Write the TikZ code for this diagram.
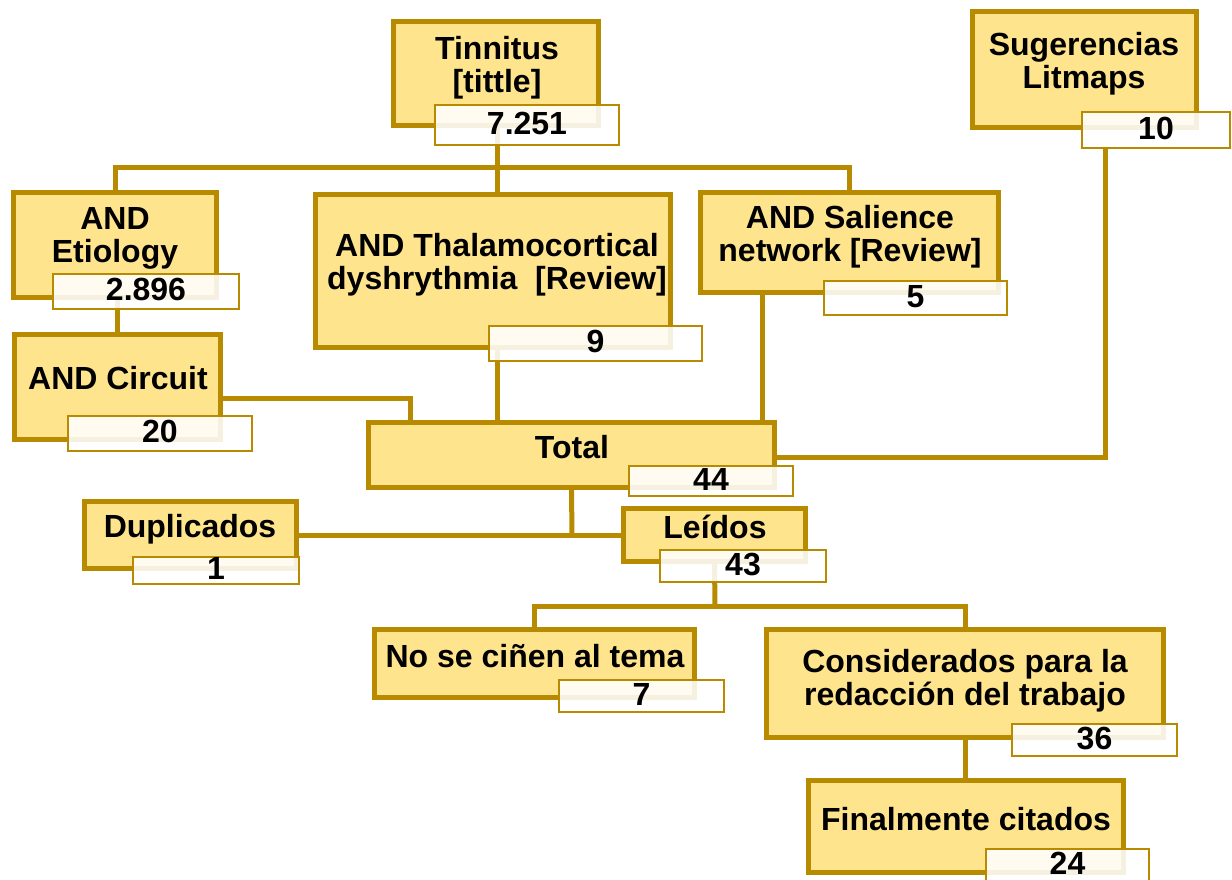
\documentclass[tikz,border=0pt]{standalone}
\usepackage{fontspec}
\setmainfont{Liberation Sans}
\definecolor{revGold}{HTML}{B88A00}
\definecolor{revCream}{HTML}{FFE48E}
\usetikzlibrary{positioning,backgrounds}

\tikzset{
	mainbox/.style 2 args={draw=revGold, line width=2.5pt, fill=revCream, inner sep=0pt,
		minimum width=#1*0.5pt-2.5pt, minimum height=#2*0.5pt-2.5pt},
	countbox/.style 2 args={draw=revGold, line width=1pt, fill=white, fill opacity=0.88,
		text opacity=1, inner sep=0pt, font=\fontsize{16}{16.5}\selectfont\bfseries,
		text height=11.4pt, text depth=2.4pt,
		minimum width=#1*0.5pt-1pt, minimum height=#2*0.5pt-1pt},
	boxtext/.style={font=\fontsize{16}{16.5}\selectfont\bfseries, align=center, inner sep=0pt},
	link/.style={draw=revGold, line width=2.5pt}
}

\begin{document}
\begin{tikzpicture}[x=0.5pt, y=-0.5pt]
		\useasboundingbox (0,0) rectangle (1232,879);
		
		% Cajas principales
		\foreach \n/\cx/\cy/\w/\h in {tin/496/73.5/210/109, lit/1084.5/69.5/229/121,
			eti/115/245/208/110, tha/493/271/360/158, sal/849.5/242.5/303/105,
			cir/117.5/387/211/110, tot/571.5/455/411/70, dup/190.5/535/217/72,
			lei/714.5/535/187/58, nos/534.5/663.5/325/73, con/965/683.5/402/113,
			fin/966/826.5/320/97}
			\node[mainbox={\w}{\h}] (\n) at (\cx,\cy) {};
		
		% Cajas de conteo
		\foreach \n/\cx/\cy/\w/\h/\num in {tin/527/125/186/42/7.251, lit/1156/130/150/38/10,
			eti/146/291.5/188/37/2.896, tha/595.5/343.5/215/37/9, sal/915.5/298/185/36/5,
			cir/160/433.5/186/37/20, tot/711/481/166/32/44, dup/216/570.5/168/29/1,
			lei/743/566/168/34/43, nos/641.5/696/167/34/7, con/1094.5/740/167/34/36,
			fin/1067.5/865/165/34/24}
			\node[countbox={\w}{\h}] (\n-n) at (\cx,\cy) {\num};
		
		% Textos de las cajas
		\node[boxtext] (tin-t) at (497,68) {Tinnitus\\{[}tittle{]}};
		\node[boxtext] (lit-t) at (1084,64) {Sugerencias\\Litmaps};
		\node[boxtext] (eti-t) at (115,238.5) {AND\\Etiology};
		\node[boxtext] (tha-t) at (497,265) {AND Thalamocortical\\dyshrythmia\ \ {[}Review{]}};
		\node[boxtext] (sal-t) at (850,236.5) {AND Salience\\network {[}Review{]}};
		\node[boxtext, anchor=base] (cir-t) at (118,389) {AND Circuit};
		\node[boxtext, anchor=base] (tot-t) at (572,458) {Total};
		\node[boxtext, anchor=base] (dup-t) at (190,537) {Duplicados};
		\node[boxtext, anchor=base] (lei-t) at (715,538) {Leídos};
		\node[boxtext, anchor=base] (nos-t) at (535,667) {No se ciñen al tema};
		\node[boxtext] (con-t) at (965,681) {Considerados para la\\redacción del trabajo};
		\node[boxtext, anchor=base] (fin-t) at (966,830) {Finalmente citados};
		
		% Puntos de union
		\coordinate (j-tin) at (497,167);
		\coordinate (j-cir) at (410,398);
		\coordinate (j-sal) at (762,300);
		\coordinate (j-lit) at (1105,457);
		\coordinate (j-tot) at (572,535);
		\coordinate (j-lei) at (715,606);
		
		% Conectores
		\begin{scope}[on background layer]
			\draw[link] (tin.south -| j-tin) -- (j-tin);
			\draw[link] (eti.north) |- (j-tin) -| (sal.north);
			\draw[link] (j-tin) -- (j-tin |- tha.north);
			\draw[link] (eti.south -| cir.north) -- (cir.north);
			\draw[link] (cir.east |- j-cir) -- (j-cir) -- (j-cir |- tot.north);
			\draw[link] (tha.south -| j-tin) -- (j-tin |- tot.north);
			\draw[link] (j-sal |- sal.south) -- (j-sal |- tot.north);
			\draw[link] (j-lit |- lit-n.south) -- (j-lit) -- (tot.east |- j-lit);
			\draw[link] (tot.south) -- (j-tot);
			\draw[link] (dup.east) -- (lei.west);
			\draw[link] (lei.south) -- (j-lei);
			\draw[link] (nos.north) |- (j-lei) -| (con.north);
			\draw[link] (con.south) -- (con.south |- fin.north);
		\end{scope}
		
	\end{tikzpicture}
\end{document}
